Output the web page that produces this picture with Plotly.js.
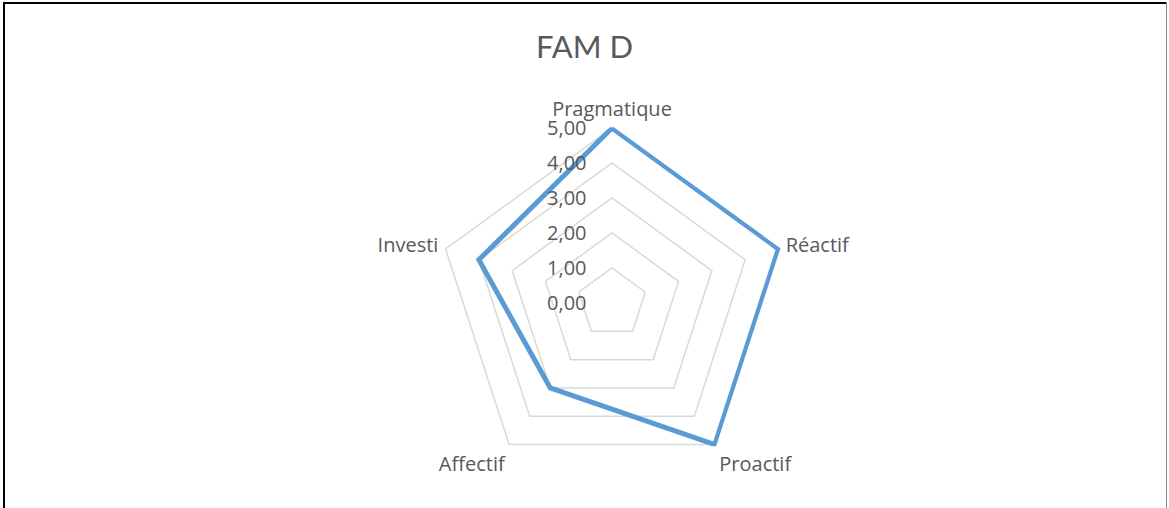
<!DOCTYPE html>
<html>
<head>
<meta charset="utf-8">
<script src="https://cdn.plot.ly/plotly-3.0.1.min.js"></script>
<style>
  html, body { margin: 0; padding: 0; background: #fff; }
  #wrap { position: relative; width: 1169px; height: 508px; overflow: hidden; }
  #chart { position: absolute; left: 0; top: 0; width: 1169px; height: 508px; }
  .bl { position: absolute; left: 3px; top: 2px; width: 2px; height: 506px; background: #000; }
  .bt { position: absolute; left: 3px; top: 2px; width: 1164px; height: 2px; background: #000; }
  .br { position: absolute; left: 1166px; top: 2px; width: 1px; height: 506px; background: #888; }
</style>
</head>
<body>
<div id="wrap">
  <div id="chart"></div>
  <div class="bl"></div><div class="bt"></div><div class="br"></div>
</div>
<script>
const chartTitle = "FAM D";
const categories = ["Pragmatique", "Réactif", "Proactif", "Affectif", "Investi"];
const values = [5, 5, 5, 3, 4];
const radialTicks = [0, 1, 2, 3, 4, 5];

const TITLE_FONT = "Lato, 'Open Sans', sans-serif";
const FONT = "'Open Sans', 'Noto Sans', sans-serif";
const TXT = "#595959";

// small headroom beyond the top tick so the thick data line is not clipped
const RMAX = 5.06;
const R5 = 175;                 // pixel radius of value 5
const RPX = R5 * RMAX / 5;      // pixel radius of the polar domain
const CX = 612, CY = 508 - 303;

const trace = {
  type: "scatterpolar",
  r: values.concat([values[0]]),
  theta: categories.concat([categories[0]]),
  mode: "lines",
  line: { color: "#5B9BD5", width: 5 },
  cliponaxis: false,
  hoverinfo: "skip",
  showlegend: false
};

const layout = {
  width: 1169, height: 508,
  margin: { l: 0, r: 0, t: 0, b: 0 },
  paper_bgcolor: "#fff",
  separators: ", ",
  title: {
    text: chartTitle,
    font: { family: TITLE_FONT, size: 31, color: TXT },
    x: 0.5, xanchor: "center",
    y: 1 - 47 / 508, yanchor: "middle", yref: "container"
  },
  polar: {
    domain: { x: [(CX - RPX) / 1169, (CX + RPX) / 1169], y: [(CY - RPX) / 508, (CY + RPX) / 508] },
    bgcolor: "rgba(0,0,0,0)",
    gridshape: "linear",
    radialaxis: {
      range: [0, RMAX],
      tickvals: radialTicks,
      tickformat: ".2f",
      angle: 90,
      side: "counterclockwise",
      tickangle: 90,
      showline: false,
      ticks: "outside",
      ticklen: 18,
      tickcolor: "rgba(0,0,0,0)",
      gridcolor: "#D9D9D9",
      gridwidth: 1.5,
      tickfont: { family: FONT, size: 20, color: TXT }
    },
    angularaxis: {
      direction: "clockwise",
      rotation: 90,
      showgrid: false,
      showline: false,
      ticks: "outside",
      ticklen: 1,
      tickcolor: "rgba(0,0,0,0)",
      tickfont: { family: FONT, size: 20, color: TXT }
    }
  }
};

Plotly.newPlot("chart", [trace], layout, { displayModeBar: false, staticPlot: true });
</script>
</body>
</html>
